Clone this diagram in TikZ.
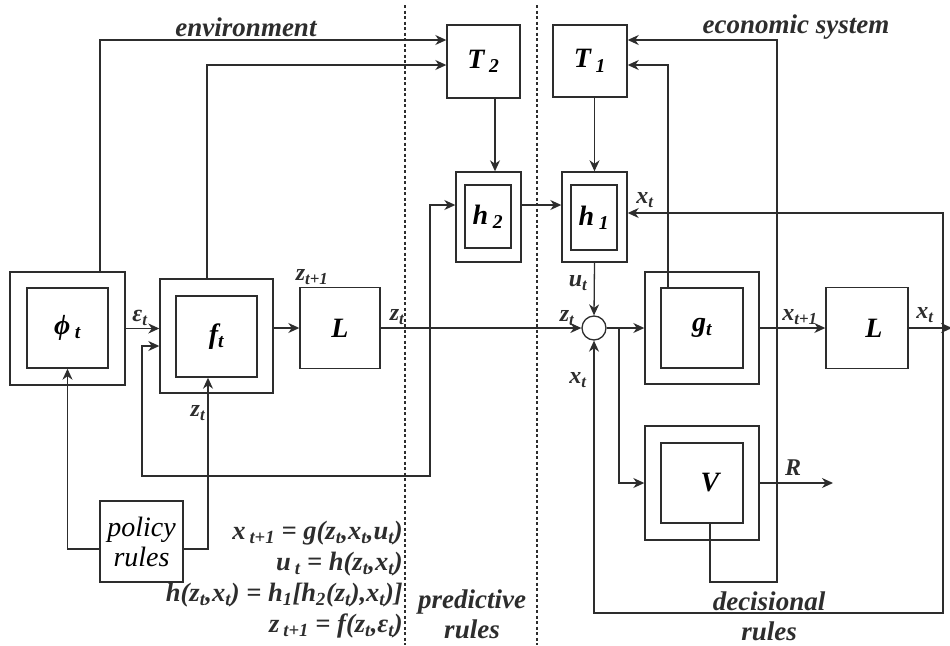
\documentclass[tikz,border=0pt]{standalone}
\usepackage{fontspec}
\setmainfont{Liberation Serif}
\usetikzlibrary{arrows.meta,positioning,calc}
\definecolor{ink}{RGB}{45,45,45}
\newcommand{\labfont}{\fontsize{24}{26}\selectfont\bfseries\itshape}
\newcommand{\boxfont}{\fontsize{28}{30}\selectfont\bfseries\itshape}
\newcommand{\titlefont}{\fontsize{27}{30}\selectfont\bfseries\itshape}
\newcommand{\eqfont}{\fontsize{26.5}{31}\selectfont\bfseries\itshape}
\newcommand{\sbs}[1]{\textsubscript{#1}}
\tikzset{
  blk/.style={draw=ink, line width=1.4pt, inner sep=0pt},
  flow/.style={draw=ink, line width=1.3pt, -{Stealth[length=11pt,width=10pt,inset=3.5pt]}},
  divider/.style={draw=ink, line width=1.5pt, dash pattern=on 3pt off 2.5pt},
  lab/.style={font=\labfont, text=ink, inner sep=0pt},
}

\begin{document}
\begin{tikzpicture}[x=1pt, y=-1pt]
\useasboundingbox (0,0) rectangle (950,645);
% dividers between environment, predictive and decisional parts
\draw[divider] (405,5) -- (405,645);
\draw[divider] (537,5) -- (537,645);

% LEFT: environment
\node[blk, minimum width=115pt, minimum height=113pt] (phiout) at (67.5,328.5) {};
\node[blk, minimum width=81pt, minimum height=80pt, font=\boxfont] (phi) at (67.5,328) {ϕ\,\sbs{t}};
\node[blk, minimum width=113pt, minimum height=114pt] (fout) at (216.5,336) {};
\node[blk, minimum width=81pt, minimum height=81pt, font=\boxfont] (f) at (216.5,336.5) {f\sbs{t}};
\node[blk, minimum width=80pt, minimum height=81pt, font=\boxfont] (Lz) at (340,328) {L};
\node[blk, minimum width=83pt, minimum height=81pt, align=center,
      font=\fontsize{28}{30}\selectfont\itshape] (policy) at (141.5,541.5) {policy\\rules};

% MIDDLE: predictive rules
\node[blk, minimum width=73pt, minimum height=73pt, font=\boxfont] (T2) at (483.5,61.5) {T\,\sbs{2}};
\node[blk, minimum width=65pt, minimum height=90pt] (h2out) at (488.5,217) {};
\node[blk, minimum width=46pt, minimum height=63pt, font=\boxfont] (h2) at (488,216.5) {h\,\sbs{2}};

% RIGHT: economic system
\node[blk, minimum width=74pt, minimum height=72pt, font=\boxfont] (T1) at (590,61) {T\,\sbs{1}};
\node[blk, minimum width=65pt, minimum height=90pt] (h1out) at (594.5,217) {};
\node[blk, minimum width=46pt, minimum height=65pt, font=\boxfont] (h1) at (594,217.5) {h\,\sbs{1}};
\node[draw=ink, line width=1.3pt, circle, minimum size=24pt, inner sep=0pt] (sum) at (594,328) {};
\node[blk, minimum width=114pt, minimum height=112pt] (gout) at (702,328) {};
\node[blk, minimum width=82pt, minimum height=80pt, font=\boxfont] (g) at (702,328) {g\sbs{t}};
\node[blk, minimum width=82pt, minimum height=81pt, font=\boxfont] (Lx) at (867,328) {\hspace{14pt}L};
\node[blk, minimum width=114pt, minimum height=114pt] (Vout) at (702,483) {};
\node[blk, minimum width=82pt, minimum height=80pt, font=\boxfont] (V) at (702,483) {\hspace{16pt}V};

% helper points
\coordinate (rowA) at (0,40);
\coordinate (rowB) at (0,65);
\coordinate (tap) at (430,328);
\coordinate (fb) at (142,476);
\coordinate (split) at (619,328);
\coordinate (xtap) at (943,328);
\coordinate (xbot) at (943,613);
\coordinate (vbot) at (777,582);
\coordinate (xout) at (952,328);
\coordinate (Rend) at (833,483);
\coordinate (t2low) at ([xshift=11.5pt]T2.south);
\coordinate (gtop) at ([xshift=-34pt]g.north);

% connectors, environment side
\draw[flow] ([xshift=32.5pt]phiout.north) |- (T2.west |- rowA);
\draw[flow] ([xshift=-9.5pt]fout.north) |- (T2.west |- rowB);
\draw[flow] (phiout.east) -- (fout.west |- phiout.east);
\draw[flow] (fout.east |- Lz.west) -- (Lz.west);
\draw[flow] ([yshift=-7.5pt]policy.west) -| (phi.south);
\draw[flow] ([yshift=-7.5pt]policy.east) -| ([xshift=-8.5pt]f.south);
\draw[flow] (Lz.east) -- (sum.west);
\draw[flow] (tap) |- (fb) |- ([yshift=-10pt]fout.west);
\draw[flow] (tap) |- ([yshift=12pt]h2out.west);

% connectors, predictive and economic side
\draw[flow] (t2low) -- (t2low |- h2out.north);
\draw[flow] (h1out.north |- T1.south) -- (h1out.north);
\draw[flow] ([yshift=12pt]h2out.east) -- ([yshift=12pt]h1out.west);
\draw[flow] (h1out.south) -- (sum.north);
\draw[flow] (sum.east) -- (gout.west);
\draw[flow] (split) |- (Vout.west);
\draw[flow] (gout.east) -- (Lx.west);
\draw[flow] (Lx.east) -- (xout);
\draw[flow] (xtap) |- ([yshift=4pt]h1out.east);
\draw[flow] (xtap) -- (xbot) -| (sum.south);
\draw[flow] (gtop) |- (T1.east |- rowB);
\draw[flow] ([xshift=8pt]V.south) |- (vbot) |- (T1.east |- rowA);
\draw[flow] (Vout.east) -- (Rend);

% signal labels
\node[lab] (eps) at (140,318) {ε\sbs{t}};
\node[lab] (zf) at (198,413) {z\sbs{t}};
\node[lab] (znext) at (312,277) {z\sbs{t+1}};
\node[lab] (zL) at (397,317) {z\sbs{t}};
\node[lab] (zs) at (567,318) {z\sbs{t}};
\node[lab] (ut) at (578,283) {u\sbs{t}};
\node[lab] (xs) at (578,380) {x\sbs{t}};
\node[lab] (xh) at (645,200) {x\sbs{t}};
\node[lab] (xnext) at (800,317) {x\sbs{t+1}};
\node[lab] (xL) at (925,315) {x\sbs{t}};
\node[lab] (Rlab) at (793,468) {R};

% region titles
\node[font=\titlefont, text=ink] (env) at (246,27) {environment};
\node[font=\titlefont, text=ink] (eco) at (796,27) {economic system};
\node[font=\titlefont, text=ink, align=center] (pred) at (472,614) {predictive\\rules};
\node[font=\titlefont, text=ink, align=center] (dec) at (769,616) {decisional\\rules};

% model equations
\node[font=\eqfont, text=ink, align=right, anchor=east, inner sep=0pt] (eqs) at (403,580)
  {x\hspace{4pt}\sbs{t+1} = g(z\sbs{t},x\sbs{t},u\sbs{t})\\
   u\hspace{4pt}\sbs{t} = h(z\sbs{t},x\sbs{t})\\
   h(z\sbs{t},x\sbs{t}) = h\sbs{1}[h\sbs{2}(z\sbs{t}),x\sbs{t})]\\
   z\hspace{4pt}\sbs{t+1} = f(z\sbs{t},ε\sbs{t})};
\end{tikzpicture}
\end{document}
